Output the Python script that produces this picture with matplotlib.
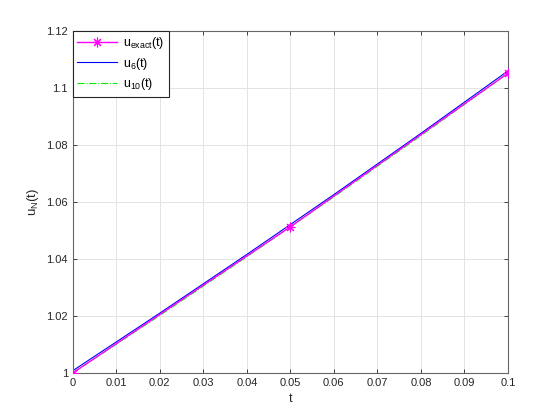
import numpy as np
import matplotlib
matplotlib.use('Agg')
import matplotlib.pyplot as plt

# data
t_exact = [0.0, 0.05, 0.1]
u_exact = [1.0000, 1.0513, 1.1052]

t_approx = [0.0, 0.02, 0.04, 0.06, 0.08, 0.1]
u_6 = [1.0008, 1.0210, 1.0416, 1.0626, 1.0841, 1.1060]
u_10 = [1.0000, 1.0202, 1.0408, 1.0618, 1.0833, 1.1052]

xticks = [0, 0.01, 0.02, 0.03, 0.04, 0.05, 0.06, 0.07, 0.08, 0.09, 0.1]
xticklabels = ['0', '0.01', '0.02', '0.03', '0.04', '0.05', '0.06', '0.07', '0.08', '0.09', '0.1']
yticks = [1, 1.02, 1.04, 1.06, 1.08, 1.1, 1.12]
yticklabels = ['1', '1.02', '1.04', '1.06', '1.08', '1.1', '1.12']

plt.rcParams['font.family'] = ['Liberation Sans', 'DejaVu Sans']
plt.rcParams['font.size'] = 8
plt.rcParams['mathtext.fontset'] = 'custom'
plt.rcParams['mathtext.rm'] = 'Liberation Sans'

fig = plt.figure(figsize=(5.6, 4.2), dpi=100)
ax = fig.add_axes([0.13, 0.112, 0.777, 0.814])

ax.plot(t_approx, u_6, '-', color='blue', linewidth=0.8, label=r'u$_{\rm 6}$(t)', zorder=2)
ax.plot(t_approx, u_10, '-.', color='#00ee00', linewidth=0.8, label=r'u$_{\rm 10}$(t)', zorder=3)
ax.plot(t_exact, u_exact, '-', color='#ff00ff', marker=(8, 2, 0), markersize=7,
        markeredgecolor='#ff00ff', markeredgewidth=0.8, linewidth=1.0,
        label=r'u$_{\rm exact}$(t)', zorder=4)

ax.set_xlim(0, 0.1)
ax.set_ylim(1, 1.12)
ax.set_xticks(xticks)
ax.set_xticklabels(xticklabels)
ax.set_yticks(yticks)
ax.set_yticklabels(yticklabels)

ax.grid(True, color='#e3e3e3', linewidth=0.7)
ax.set_axisbelow(True)
ax.tick_params(direction='in', top=True, right=True, length=3, width=0.6,
               colors='#262626', labelsize=8)
for s in ax.spines.values():
    s.set_color('#666666')
    s.set_linewidth(0.8)

ax.set_xlabel('t', fontsize=9, color='#262626')
ax.set_ylabel(r'u$_{\rm N}$(t)', fontsize=9.5, color='#262626')

h, l = ax.get_legend_handles_labels()
order = [2, 0, 1]
leg = ax.legend([h[i] for i in order], [l[i] for i in order], loc='upper left',
                fontsize=9, fancybox=False, framealpha=1, edgecolor='#262626',
                borderaxespad=0, handlelength=3.2, handletextpad=0.5,
                borderpad=0.35, labelspacing=0.35)
leg.get_frame().set_linewidth(0.8)

plt.savefig('out.png', dpi=100)
